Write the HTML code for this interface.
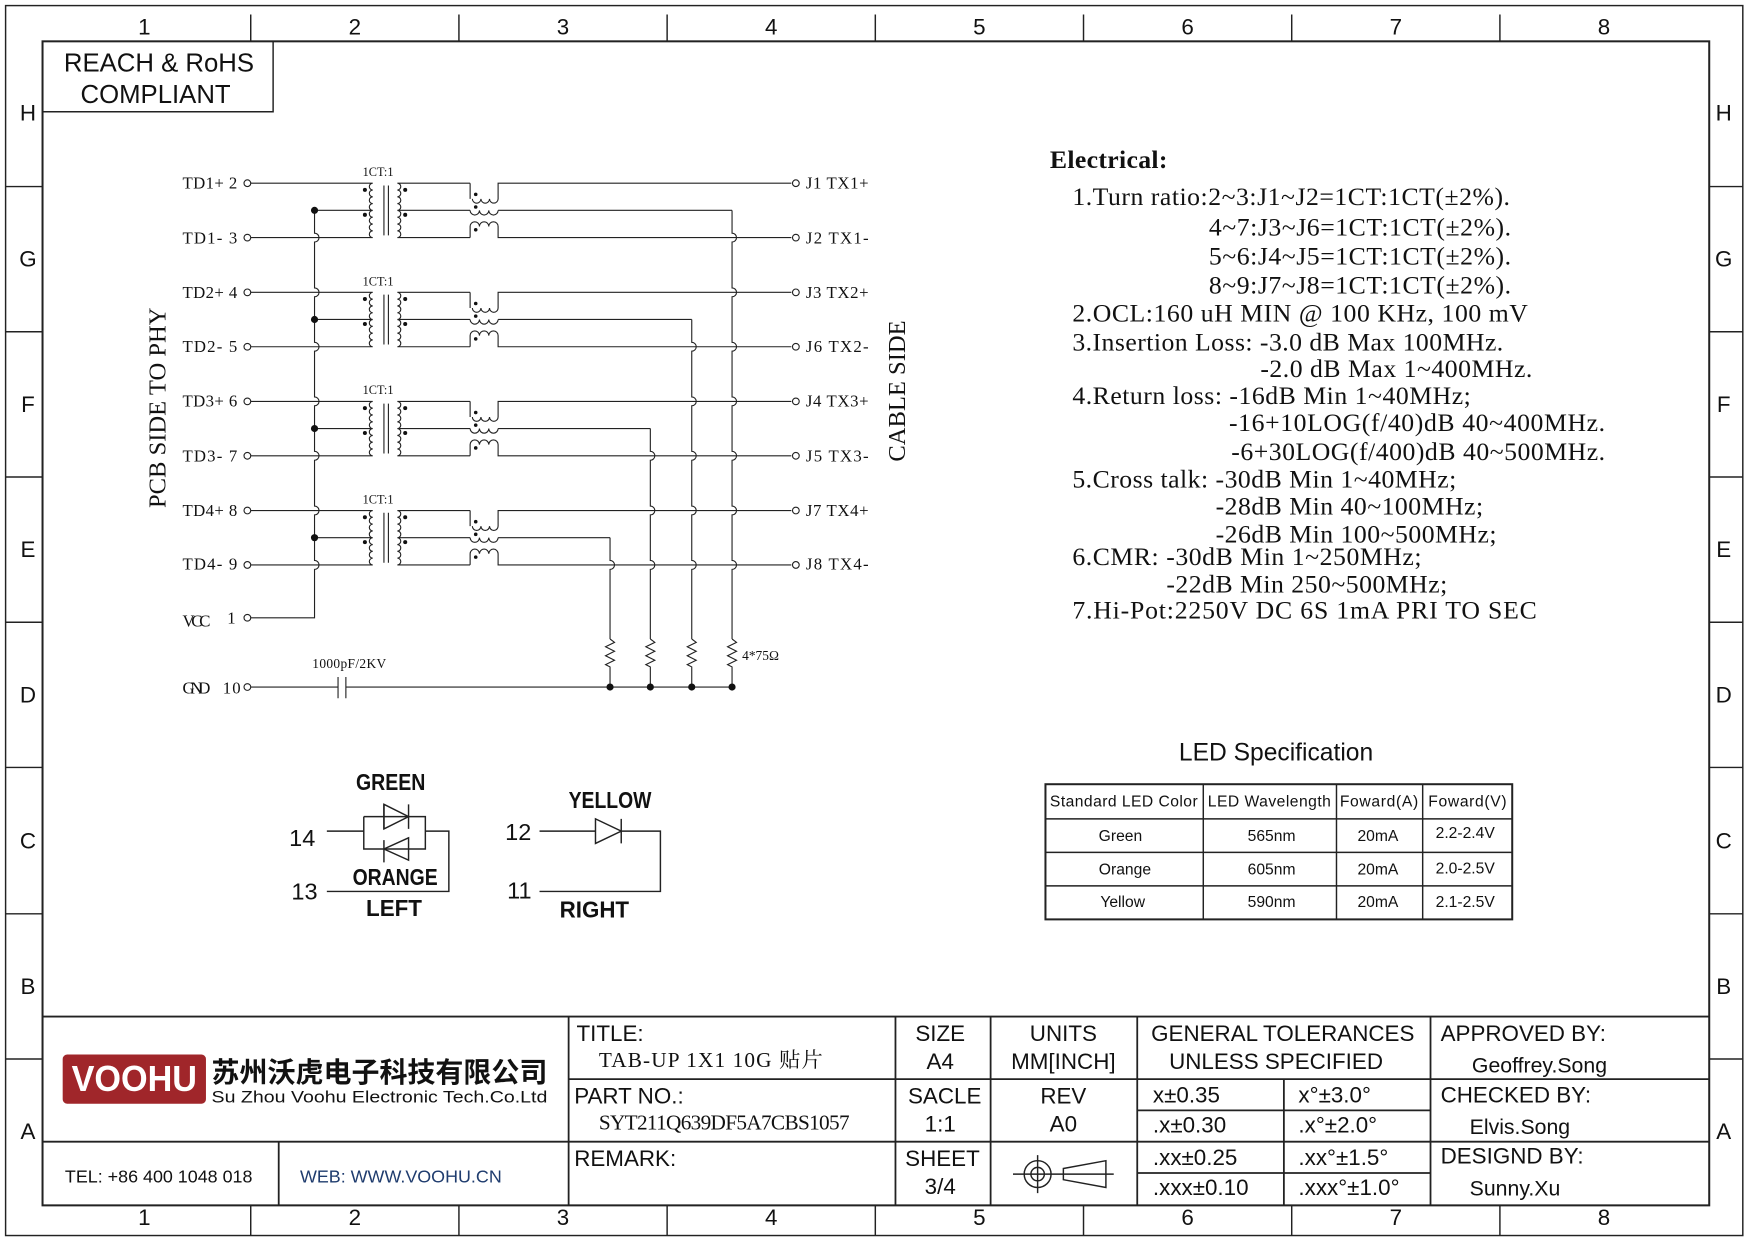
<!DOCTYPE html>
<html><head><meta charset="utf-8"><style>
html,body{margin:0;padding:0;background:#fff;}
svg{display:block;}
text{dominant-baseline:central;fill:#111;}
.s{font-family:"Liberation Sans","Noto Sans CJK SC",sans-serif;}
.r{font-family:"Liberation Serif","Noto Serif CJK SC",serif;}
.m{font-family:"Liberation Serif","Noto Sans CJK SC",serif;font-size:15px;}
</style></head><body>
<svg id="d" width="1754" height="1240" viewBox="0 0 1567 1110" preserveAspectRatio="none" xmlns="http://www.w3.org/2000/svg">
<g fill="none" stroke="#222" stroke-width="1.3">
<rect x="5" y="5" width="1552" height="1101"/>
<rect x="38" y="37" width="1489" height="1042" stroke-width="1.8"/>
<path d="M224 13V37M410 13V37M596 13V37M782 13V37M968 13V37M1154 13V37M1340 13V37M224 1079V1106M410 1079V1106M596 1079V1106M782 1079V1106M968 1079V1106M1154 1079V1106M1340 1079V1106"/>
<path d="M5 167H38M5 297H38M5 427H38M5 557H38M5 687H38M5 818H38M5 948H38M1527 167H1557M1527 297H1557M1527 427H1557M1527 557H1557M1527 687H1557M1527 818H1557M1527 948H1557"/>
<path d="M38 100H244V37"/>
<path d="M38 910H1527M508 966H1527M38 1022H1527M1016 994H1278M1016 1050H1278M508 910V1079M800 910V1079M885 910V1079M1016 910V1079M1278 910V1079M1147 966V1079M249 1022V1079" stroke-width="1.6"/>
<rect x="934" y="702" width="417" height="121" stroke-width="1.8"/>
<path d="M934 733H1351M934 763H1351M934 793H1351M1075 702V823M1194 702V823M1271 702V823"/>
<path d="M292 744H325M325 731V760H380V731H325M343 720V742M343 752V772M365 720V742"/>
<path d="M343 720L365 731L343 742Z M365 750L343 760L365 770Z M365 750V770"/>
<path d="M380 744H401V798H292"/>
<path d="M482 744H532M532 733L555 744L532 755ZM555 733V755M555 744H590V798H482"/>
<circle cx="927" cy="1051" r="12"/><circle cx="927" cy="1051" r="6"/>
<path d="M905 1051H995M927 1034V1068M950 1046L988 1039V1063L950 1056Z"/>
</g>
<g id="sch" fill="none" stroke="#222" stroke-width="1"></g>
<g id="dots" fill="#111"></g>

<g class="s" font-size="20" text-anchor="middle">
<text x="129" y="24">1</text><text x="317" y="24">2</text><text x="503" y="24">3</text><text x="689" y="24">4</text><text x="875" y="24">5</text><text x="1061" y="24">6</text><text x="1247" y="24">7</text><text x="1433" y="24">8</text>
<text x="129" y="1090">1</text><text x="317" y="1090">2</text><text x="503" y="1090">3</text><text x="689" y="1090">4</text><text x="875" y="1090">5</text><text x="1061" y="1090">6</text><text x="1247" y="1090">7</text><text x="1433" y="1090">8</text>
<text x="25" y="101">H</text><text x="25" y="232">G</text><text x="25" y="362">F</text><text x="25" y="492">E</text><text x="25" y="622">D</text><text x="25" y="753">C</text><text x="25" y="883">B</text><text x="25" y="1013">A</text>
<text x="1540" y="101">H</text><text x="1540" y="232">G</text><text x="1540" y="362">F</text><text x="1540" y="492">E</text><text x="1540" y="622">D</text><text x="1540" y="753">C</text><text x="1540" y="883">B</text><text x="1540" y="1013">A</text>
<text x="142" y="57" font-size="23">REACH &amp; RoHS</text>
<text x="139" y="85" font-size="23">COMPLIANT</text>
</g>

<g class="m" lengthAdjust="spacingAndGlyphs">
<text x="163" y="164" textLength="49">TD1+ 2</text><text x="163" y="213" textLength="49">TD1- 3</text>
<text x="163" y="262" textLength="49">TD2+ 4</text><text x="163" y="310" textLength="49">TD2- 5</text>
<text x="163" y="359" textLength="49">TD3+ 6</text><text x="163" y="408" textLength="49">TD3- 7</text>
<text x="163" y="457" textLength="49">TD4+ 8</text><text x="163" y="505" textLength="49">TD4- 9</text>
<text x="163" y="556" textLength="25">VCC</text><text x="203" y="553">1</text>
<text x="163" y="616" textLength="25">GND</text><text x="199" y="616" textLength="16">10</text>
<text x="720" y="164" textLength="56">J1 TX1+</text><text x="720" y="213" textLength="56">J2 TX1-</text>
<text x="720" y="262" textLength="56">J3 TX2+</text><text x="720" y="310" textLength="56">J6 TX2-</text>
<text x="720" y="359" textLength="56">J4 TX3+</text><text x="720" y="408" textLength="56">J5 TX3-</text>
<text x="720" y="457" textLength="56">J7 TX4+</text><text x="720" y="505" textLength="56">J8 TX4-</text>
<text x="324" y="154" font-size="11">1CT:1</text><text x="324" y="252" font-size="11">1CT:1</text>
<text x="324" y="349" font-size="11">1CT:1</text><text x="324" y="447" font-size="11">1CT:1</text>
<text x="279" y="594" font-size="12" textLength="66">1000pF/2KV</text>
<text x="663" y="587" font-size="12">4*75Ω</text>
</g>
<text class="r" font-size="22" text-anchor="middle" transform="translate(141 365) rotate(-90)">PCB SIDE TO PHY</text>
<text class="r" font-size="22" text-anchor="middle" transform="translate(802 350) rotate(-90)">CABLE SIDE</text>

<g class="r" font-size="23" lengthAdjust="spacingAndGlyphs">
<text x="938" y="143" font-weight="bold" textLength="105">Electrical:</text>
<text x="958" y="176" textLength="391">1.Turn ratio:2~3:J1~J2=1CT:1CT(±2%).</text>
<text x="1080" y="203" textLength="270">4~7:J3~J6=1CT:1CT(±2%).</text>
<text x="1080" y="229" textLength="270">5~6:J4~J5=1CT:1CT(±2%).</text>
<text x="1080" y="255" textLength="270">8~9:J7~J8=1CT:1CT(±2%).</text>
<text x="958" y="280" textLength="407">2.OCL:160 uH MIN @ 100 KHz, 100 mV</text>
<text x="958" y="306" textLength="385">3.Insertion Loss: -3.0 dB Max 100MHz.</text>
<text x="1126" y="330" textLength="243">-2.0 dB Max 1~400MHz.</text>
<text x="958" y="354" textLength="356">4.Return loss: -16dB Min 1~40MHz;</text>
<text x="1098" y="378" textLength="336">-16+10LOG(f/40)dB 40~400MHz.</text>
<text x="1100" y="404" textLength="334">-6+30LOG(f/400)dB 40~500MHz.</text>
<text x="958" y="429" textLength="343">5.Cross talk: -30dB Min 1~40MHz;</text>
<text x="1086" y="453" textLength="239">-28dB Min 40~100MHz;</text>
<text x="1086" y="478" textLength="251">-26dB Min 100~500MHz;</text>
<text x="958" y="498" textLength="312">6.CMR: -30dB Min 1~250MHz;</text>
<text x="1042" y="523" textLength="251">-22dB Min 250~500MHz;</text>
<text x="958" y="546" textLength="415">7.Hi-Pot:2250V DC  6S 1mA PRI TO SEC</text>
</g>

<g class="s" text-anchor="middle">
<text x="1140" y="674" font-size="22">LED Specification</text>
<g font-size="14" lengthAdjust="spacingAndGlyphs">
<text x="1004" y="718" textLength="132">Standard LED Color</text>
<text x="1134" y="718" textLength="110">LED Wavelength</text>
<text x="1232" y="718" textLength="70">Foward(A)</text>
<text x="1311" y="718" textLength="70">Foward(V)</text>
</g>
<g font-size="14">
<text x="1001" y="749">Green</text><text x="1136" y="749">565nm</text><text x="1231" y="749">20mA</text><text x="1309" y="746">2.2-2.4V</text>
<text x="1005" y="779">Orange</text><text x="1136" y="779">605nm</text><text x="1231" y="779">20mA</text><text x="1309" y="778">2.0-2.5V</text>
<text x="1003" y="808">Yellow</text><text x="1136" y="808">590nm</text><text x="1231" y="808">20mA</text><text x="1309" y="808">2.1-2.5V</text>
</g>
</g>

<g class="s" text-anchor="middle" font-size="21" font-weight="bold">
<text x="349" y="700" textLength="62" lengthAdjust="spacingAndGlyphs">GREEN</text>
<text x="353" y="785" textLength="76" lengthAdjust="spacingAndGlyphs">ORANGE</text>
<text x="352" y="813" textLength="50" lengthAdjust="spacingAndGlyphs">LEFT</text>
<text x="545" y="716" textLength="74" lengthAdjust="spacingAndGlyphs">YELLOW</text>
<text x="531" y="814" textLength="62" lengthAdjust="spacingAndGlyphs">RIGHT</text>
</g>
<g class="s" text-anchor="middle" font-size="21">
<text x="270" y="750">14</text><text x="272" y="798">13</text>
<text x="463" y="745">12</text><text x="464" y="797">11</text>
</g>

<rect x="56" y="944" width="128" height="44" rx="4" fill="#a0262a"/>
<text class="s" x="120" y="966" font-size="32" font-weight="bold" text-anchor="middle" style="fill:#fff" textLength="112" lengthAdjust="spacingAndGlyphs">VOOHU</text>
<text class="s" x="189" y="960" font-size="25" font-weight="bold" textLength="300" lengthAdjust="spacingAndGlyphs">苏州沃虎电子科技有限公司</text>
<text class="s" x="189" y="982" font-size="15" textLength="300" lengthAdjust="spacingAndGlyphs">Su Zhou Voohu Electronic Tech.Co.Ltd</text>
<g class="s" font-size="20">
<text x="515" y="925">TITLE:</text>
<text x="513" y="981">PART NO.:</text>
<text x="513" y="1037">REMARK:</text>
<text x="58" y="1053" font-size="16">TEL: +86 400 1048 018</text>
<text x="268" y="1053" font-size="16" style="fill:#1f3c6e">WEB: WWW.VOOHU.CN</text>
<g text-anchor="middle">
<text x="840" y="925">SIZE</text><text x="840" y="950">A4</text>
<text x="950" y="925">UNITS</text><text x="950" y="950">MM[INCH]</text>
<text x="1146" y="925">GENERAL TOLERANCES</text><text x="1140" y="950">UNLESS SPECIFIED</text>
<text x="844" y="981">SACLE</text><text x="840" y="1006">1:1</text>
<text x="950" y="981">REV</text><text x="950" y="1006">A0</text>
<text x="842" y="1037">SHEET</text><text x="840" y="1062">3/4</text>
</g>
<text x="1030" y="980">x±0.35</text><text x="1160" y="980">x°±3.0°</text>
<text x="1030" y="1007">.x±0.30</text><text x="1160" y="1007">.x°±2.0°</text>
<text x="1030" y="1036">.xx±0.25</text><text x="1160" y="1036">.xx°±1.5°</text>
<text x="1030" y="1063">.xxx±0.10</text><text x="1160" y="1063">.xxx°±1.0°</text>
<text x="1287" y="925">APPROVED BY:</text><text x="1315" y="954" font-size="19">Geoffrey.Song</text>
<text x="1287" y="980">CHECKED BY:</text><text x="1313" y="1009" font-size="19">Elvis.Song</text>
<text x="1287" y="1035">DESIGND BY:</text><text x="1313" y="1064" font-size="19">Sunny.Xu</text>
</g>
<g class="r" font-size="19" lengthAdjust="spacingAndGlyphs">
<text x="535" y="949" textLength="200">TAB-UP 1X1 10G 贴片</text>
<text x="535" y="1005" textLength="224">SYT211Q639DF5A7CBS1057</text>
</g>
</svg>
<script>
(function(){
var g=document.getElementById('sch'),dg=document.getElementById('dots');var d='';
function P(s){d+=s;}
function dot(x,y,r){var c=document.createElementNS('http://www.w3.org/2000/svg','circle');c.setAttribute('cx',x);c.setAttribute('cy',y);c.setAttribute('r',r);dg.appendChild(c);}
var base=[164,261.7,359.3,457],vx=[654,618,581,545];
var rows=[];base.forEach(function(b){rows.push(b,b+48.7);});
function coil(x,y0,y1,dir,n){var h=(y1-y0)/n;var s='M'+x+' '+y0;for(var i=0;i<n;i++){s+='A'+(h/2)+' '+(h/2)+' 0 0 '+(dir>0?1:0)+' '+x+' '+(y0+h*(i+1));}return s;}
function hcoil(x0,x1,y,down,n){var w=(x1-x0)/n;var s='M'+x0+' '+y;for(var i=0;i<n;i++){s+='A'+(w/2)+' '+(w/2)+' 0 0 '+(down?0:1)+' '+(x0+w*(i+1))+' '+y;}return s;}
function vjump(x,y0,y1,cross){var s='M'+x+' '+y0;cross.forEach(function(c){if(c>y0+4&&c<y1-4){s+='L'+x+' '+(c-4)+'A4 4 0 0 1 '+x+' '+(c+4);}});s+='L'+x+' '+y1;return s;}
base.forEach(function(yp,i){
 var ym=yp+48.7,ct=yp+24.3;
 [yp,ym].forEach(function(y){P('M224 '+y+'H333M355 '+y+'H420');});
 P('M281 '+ct+'H333M355 '+ct+'H420');
 P(coil(333,yp,ym,-1,8));P(coil(355,yp,ym,1,8));
 P('M343 '+(yp+2)+'V'+(ym-2)+'M347 '+(yp+2)+'V'+(ym-2));
 dot(326,yp+6,1.8);dot(326,ct+4,1.8);dot(362,yp+6,1.8);dot(362,ct+4,1.8);
 P('M420 '+yp+'V'+(yp+14)+hcoil(422,445,yp+14,true,3)+'M445 '+(yp+14)+'V'+yp+'H707');
 P('M420 '+ct+hcoil(420,445,ct,true,3)+'M445 '+ct+'H'+vx[i]);
 P('M420 '+ym+'V'+(ym-10)+hcoil(420,445,ym-10,false,3)+'M445 '+(ym-10)+'V'+ym+'H707');
 dot(425,yp+10,1.6);dot(425,ct-3,1.6);dot(425,ym-7,1.6);
 dot(281,ct,3.2);
 P(vjump(vx[i],ct,572,rows));
 var z='M'+vx[i]+' 572';for(var k=0;k<6;k++){z+='L'+(vx[i]+(k%2?-4:4))+' '+(575+k*4);}z+='L'+vx[i]+' 597V615';P(z);
 dot(vx[i],615,3.2);
});
P(vjump(281,188.3,553,rows)+'H224');
P('M224 615H302M309 615H654M302 606V625M309 606V625');
var p=document.createElementNS('http://www.w3.org/2000/svg','path');p.setAttribute('d',d);g.appendChild(p);
rows.forEach(function(y){var a=document.createElementNS('http://www.w3.org/2000/svg','circle');a.setAttribute('cx',221);a.setAttribute('cy',y);a.setAttribute('r',3);g.appendChild(a);var b=a.cloneNode();b.setAttribute('cx',711);g.appendChild(b);});
[553,615].forEach(function(y){var a=document.createElementNS('http://www.w3.org/2000/svg','circle');a.setAttribute('cx',221);a.setAttribute('cy',y);a.setAttribute('r',3);g.appendChild(a);});
})();
</script>
</body></html>
